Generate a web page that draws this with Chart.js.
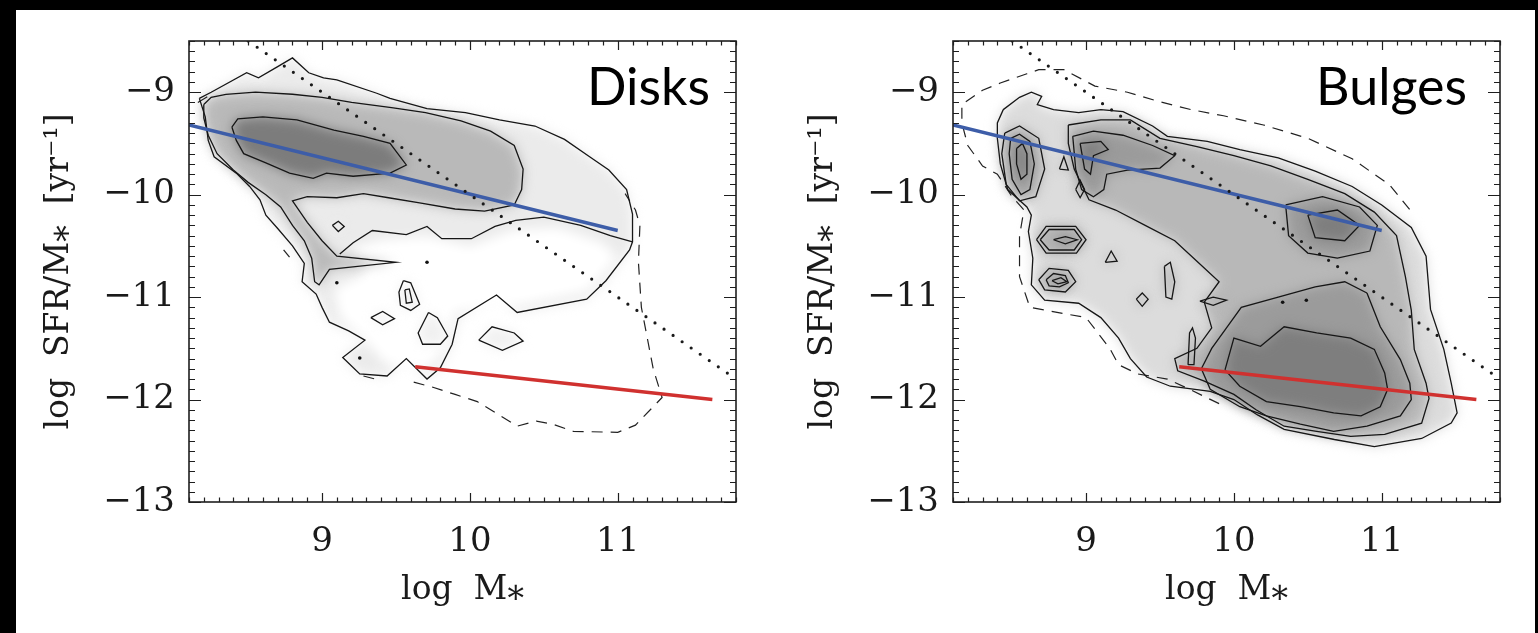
<!DOCTYPE html>
<html>
<head>
<meta charset="utf-8">
<script src="https://cdn.jsdelivr.net/npm/chart.js@4.4.1/dist/chart.umd.min.js"></script>
<style>
  html, body { margin: 0; padding: 0; background: #000; width: 1538px; height: 633px; overflow: hidden; }
  #sheet { position: absolute; left: 16px; top: 10px; width: 1519px; height: 623px; background: #fff; }
  canvas { position: absolute; top: 0; width: 769px; height: 633px; }
  #disks { left: 0; }
  #bulges { left: 764px; }
</style>
</head>
<body>
<div id="sheet"></div>
<canvas id="disks" width="769" height="633"></canvas>
<canvas id="bulges" width="769" height="633"></canvas>
<script>
// ---- axes ----
const xRange = [8.1, 11.8];
const yRange = [-13, -8.5];
const xTicks = [9, 10, 11];
const xTickLabels = ['9', '10', '11'];
const yTicks = [-13, -12, -11, -10, -9];
const yTickLabels = ['−13', '−12', '−11', '−10', '−9'];
const xTitle = 'log  M⁎';
const yTitle = 'log  SFR/M⁎  [yr⁻¹]';
const panelNames = ['Disks', 'Bulges'];

// ---- relations shared by both panels ----
const blueFit = [[8.1, -9.32], [11.0, -10.35]];
const redFit = [[9.63, -11.68], [11.64, -12.0]];
const equalityLine = [[8.5, -8.5], [11.8, -11.8]];

// ---- disk components: density contours ----
const disksOuter = [[8.17,-9.06],[8.25,-9.0],[8.49,-8.81],[8.57,-8.86],[8.7,-8.75],[8.8,-8.665],[8.91,-8.81],[9.01,-8.86],[9.1,-8.88],[9.37,-9.01],[9.46,-9.06],[9.71,-9.16],[9.97,-9.2],[10.2,-9.27],[10.44,-9.33],[10.64,-9.46],[10.8,-9.62],[10.94,-9.76],[11.06,-9.95],[11.1,-10.19],[11.1,-10.46],[11.08,-10.54],[10.92,-10.84],[10.79,-11.02],[10.32,-11.15],[10.18,-10.98],[9.92,-11.21],[9.88,-11.46],[9.8,-11.69],[9.71,-11.8],[9.57,-11.6],[9.44,-11.77],[9.255,-11.75],[9.14,-11.59],[9.29,-11.42],[9.18,-11.33],[9.05,-11.245],[9.0,-11.1],[8.96,-10.97],[8.865,-10.85],[8.88,-10.67],[8.8,-10.5],[8.7,-10.33],[8.62,-10.2],[8.58,-10.05],[8.51,-9.92],[8.42,-9.79],[8.27,-9.63],[8.23,-9.47],[8.21,-9.24]];
// inner boundary of the lowest level, open towards the right edge
const disksGap = [[9.12,-10.58],[9.21,-10.47],[9.34,-10.35],[9.57,-10.39],[9.71,-10.31],[9.81,-10.43],[10.01,-10.43],[10.17,-10.31],[10.31,-10.25],[10.5,-10.22],[10.75,-10.3],[10.95,-10.4],[11.1,-10.46]];
// region left unshaded below the main band
const disksClear = [[9.2,-10.52],[9.4,-10.44],[9.7,-10.4],[10.0,-10.5],[10.3,-10.34],[10.6,-10.32],[10.9,-10.47],[11.0,-10.62],[10.8,-10.95],[10.3,-11.1],[9.9,-11.15],[9.85,-11.5],[9.7,-11.72],[9.45,-11.68],[9.3,-11.45],[9.12,-11.2],[9.08,-10.92],[9.3,-10.76]];
const disksMid = [[8.2,-9.12],[8.25,-9.05],[8.35,-9.02],[8.55,-9.0],[8.8,-9.02],[9.0,-9.05],[9.2,-9.1],[9.47,-9.15],[9.7,-9.2],[9.94,-9.28],[10.14,-9.38],[10.3,-9.52],[10.36,-9.75],[10.35,-9.95],[10.3,-10.1],[10.1,-10.16],[9.9,-10.14],[9.66,-10.08],[9.45,-10.03],[9.28,-9.99],[9.1,-10.03],[8.9,-10.02],[8.8,-10.06],[8.9,-10.27],[9.0,-10.45],[9.1,-10.6],[9.5,-10.66],[9.05,-10.73],[8.98,-10.88],[8.95,-10.85],[8.93,-10.62],[8.88,-10.45],[8.8,-10.3],[8.72,-10.12],[8.62,-10.0],[8.5,-9.88],[8.4,-9.76],[8.29,-9.6],[8.23,-9.42],[8.2,-9.25]];
const disksCore = [[8.39,-9.34],[8.43,-9.26],[8.6,-9.24],[8.83,-9.27],[9.08,-9.37],[9.28,-9.43],[9.46,-9.5],[9.57,-9.71],[9.46,-9.79],[9.21,-9.82],[9.03,-9.79],[8.94,-9.84],[8.78,-9.79],[8.62,-9.69],[8.47,-9.6],[8.42,-9.47]];
const disksIslands = [
  [[9.07,-10.3],[9.11,-10.26],[9.15,-10.31],[9.11,-10.36]],
  [[9.33,-11.2],[9.41,-11.14],[9.49,-11.21],[9.41,-11.27]],
  [[9.55,-10.84],[9.6,-10.86],[9.66,-11.07],[9.6,-11.13],[9.53,-11.08],[9.52,-10.95]],
  [[9.72,-11.15],[9.78,-11.2],[9.85,-11.38],[9.8,-11.46],[9.68,-11.46],[9.65,-11.35]],
  [[10.06,-11.42],[10.15,-11.29],[10.3,-11.35],[10.36,-11.43],[10.22,-11.52]]
];
const disksIslandCores = [
  [[9.56,-10.93],[9.59,-10.92],[9.61,-11.05],[9.57,-11.06]]
];
const disksDashed = [
  [[9.62,-11.83],[9.75,-11.88],[9.9,-11.95],[10.05,-12.02],[10.32,-12.26],[10.45,-12.21],[10.56,-12.24],[10.7,-12.31],[11.0,-12.32],[11.12,-12.25],[11.3,-11.98],[11.24,-11.7],[11.16,-11.1],[11.14,-10.66],[11.15,-10.3],[11.12,-10.15],[11.05,-9.99]],
  [[8.16,-9.1],[8.24,-9.03]],
  [[8.74,-10.54],[8.78,-10.61]],
  [[9.28,-11.77],[9.36,-11.8]]
];
const disksDots = [[9.71,-10.66],[9.255,-11.595],[9.1,-10.86]];

// ---- bulge components: density contours ----
const bulgesOuter = [[8.44,-9.17],[8.55,-9.05],[8.63,-9.0],[8.7,-9.04],[8.67,-9.12],[8.78,-9.17],[8.95,-9.2],[9.1,-9.17],[9.25,-9.19],[9.45,-9.33],[9.55,-9.43],[9.82,-9.48],[10.04,-9.56],[10.3,-9.64],[10.55,-9.77],[10.8,-9.92],[11.0,-10.1],[11.2,-10.32],[11.3,-10.6],[11.33,-11.12],[11.42,-11.51],[11.47,-11.84],[11.51,-12.13],[11.47,-12.23],[11.27,-12.38],[10.95,-12.46],[10.68,-12.39],[10.34,-12.29],[10.16,-12.15],[10.0,-12.0],[9.84,-11.92],[9.57,-11.87],[9.41,-11.78],[9.3,-11.6],[9.22,-11.4],[9.1,-11.2],[8.95,-11.06],[8.72,-11.03],[8.63,-10.88],[8.64,-10.62],[8.61,-10.36],[8.63,-10.2],[8.6,-10.12],[8.47,-9.95],[8.42,-9.7],[8.4,-9.45],[8.4,-9.3]];
const bulgesMid = [
  [[8.88,-9.32],[9.1,-9.27],[9.3,-9.27],[9.5,-9.45],[9.75,-9.53],[10.0,-9.62],[10.25,-9.72],[10.5,-9.85],[10.75,-9.99],[10.95,-10.17],[11.1,-10.4],[11.16,-10.8],[11.2,-11.13],[11.22,-11.51],[11.3,-11.84],[11.32,-11.99],[11.27,-12.23],[11.02,-12.34],[10.79,-12.36],[10.56,-12.31],[10.34,-12.26],[10.15,-12.1],[10.0,-11.95],[9.8,-11.82],[9.62,-11.72],[9.6,-11.6],[9.75,-11.5],[9.85,-11.3],[9.8,-11.05],[9.9,-10.85],[9.75,-10.65],[9.6,-10.45],[9.4,-10.3],[9.2,-10.15],[9.02,-10.05],[8.92,-9.75],[8.88,-9.5]],
  [[8.45,-9.4],[8.55,-9.33],[8.68,-9.45],[8.72,-9.75],[8.66,-10.02],[8.55,-10.06],[8.46,-9.9],[8.43,-9.6]]
];
const bulgesHigh = [
  [[8.91,-9.43],[9.05,-9.38],[9.25,-9.42],[9.45,-9.52],[9.6,-9.62],[9.5,-9.74],[9.28,-9.76],[9.14,-9.8],[9.12,-9.95],[9.05,-10.02],[8.97,-9.95],[8.93,-9.75]],
  [[10.35,-10.1],[10.6,-10.02],[10.85,-10.12],[10.97,-10.3],[10.92,-10.55],[10.7,-10.62],[10.5,-10.57],[10.37,-10.4]],
  [[10.9,-10.96],[10.99,-11.29],[11.126,-11.61],[11.19,-11.84],[11.2,-12.0],[11.126,-12.16],[10.9,-12.26],[10.675,-12.31],[10.45,-12.24],[10.22,-12.16],[10.04,-12.07],[9.84,-11.9],[9.78,-11.7],[9.85,-11.5],[9.95,-11.3],[10.05,-11.1],[10.3,-11.0],[10.55,-10.9],[10.75,-10.85]],
  [[8.49,-9.45],[8.55,-9.41],[8.62,-9.48],[8.65,-9.7],[8.62,-9.95],[8.56,-10.0],[8.5,-9.85],[8.48,-9.6]]
];
const bulgesPeak = [
  [[9.94,-11.71],[10.0,-11.4],[10.18,-11.48],[10.34,-11.29],[10.56,-11.35],[10.79,-11.4],[10.95,-11.51],[11.02,-11.74],[11.04,-11.9],[10.99,-12.07],[10.86,-12.16],[10.675,-12.13],[10.45,-12.07],[10.22,-12.02],[10.04,-11.87]],
  [[8.53,-9.55],[8.57,-9.5],[8.6,-9.6],[8.6,-9.8],[8.56,-9.85],[8.53,-9.7]],
  [[8.96,-9.5],[9.1,-9.48],[9.15,-9.56],[9.05,-9.62],[9.03,-9.8],[8.99,-9.75]],
  [[10.5,-10.2],[10.7,-10.15],[10.85,-10.3],[10.75,-10.45],[10.55,-10.42]]
];
const bulgesIslands = [
  [[8.665,-10.44],[8.73,-10.31],[8.93,-10.31],[9.0,-10.44],[8.935,-10.57],[8.73,-10.57]],
  [[8.69,-10.44],[8.75,-10.34],[8.92,-10.34],[8.97,-10.44],[8.92,-10.54],[8.75,-10.54]],
  [[8.68,-10.83],[8.75,-10.72],[8.88,-10.74],[8.93,-10.85],[8.86,-10.95],[8.72,-10.93]],
  [[8.73,-10.83],[8.78,-10.77],[8.86,-10.79],[8.88,-10.86],[8.82,-10.9],[8.75,-10.89]],
  [[9.13,-10.66],[9.17,-10.55],[9.21,-10.65]],
  [[9.34,-11.02],[9.38,-10.96],[9.42,-11.02],[9.38,-11.09]],
  [[9.53,-10.7],[9.57,-10.66],[9.6,-10.85],[9.58,-11.02],[9.54,-11.0]],
  [[9.77,-11.04],[9.86,-11.0],[9.95,-11.03],[9.86,-11.08]],
  [[9.69,-11.66],[9.7,-11.35],[9.72,-11.3],[9.74,-11.4],[9.73,-11.66]],
  [[8.93,-9.95],[8.96,-9.86],[8.99,-9.95],[8.96,-10.03]],
  [[8.82,-9.75],[8.85,-9.63],[8.88,-9.76]]
];
const bulgesIslandCores = [
  [[8.78,-10.44],[8.86,-10.41],[8.94,-10.44],[8.86,-10.48]],
  [[8.77,-10.84],[8.83,-10.81],[8.87,-10.85],[8.81,-10.87]]
];
const bulgesDashed = [
  [[9.9,-12.04],[9.7,-11.9],[9.55,-11.8],[9.35,-11.75],[9.22,-11.66],[9.16,-11.5],[9.0,-11.2],[8.62,-11.1],[8.55,-10.8],[8.55,-10.4],[8.58,-10.15],[8.5,-10.02],[8.4,-9.8],[8.3,-9.72],[8.2,-9.52],[8.16,-9.3],[8.16,-9.12],[8.3,-8.98],[8.42,-8.91],[8.6,-8.82],[8.68,-8.78],[8.85,-8.78],[9.06,-8.94],[9.28,-9.0],[9.49,-9.09],[9.71,-9.17],[9.93,-9.23],[10.2,-9.32],[10.5,-9.45],[10.8,-9.65],[11.05,-9.9],[11.22,-10.2]]
];
const bulgesDots = [[10.33,-11.05],[10.49,-11.03]];

const pts = (a) => a.map(([x, y]) => ({ x, y }));
const ring = (a) => { const d = pts(a); d.push(d[0]); return d; };

function contour(a, shade) {
  return { data: ring(a), showLine: true, borderColor: '#161616', borderWidth: 1.3,
    pointRadius: 0, fill: false, tension: 0, shade };
}
function openContour(a) {
  return { data: pts(a), showLine: true, borderColor: '#161616', borderWidth: 1.3,
    pointRadius: 0, fill: false, tension: 0 };
}
// a shaded area with no outline of its own
function area(a, shade) {
  return { data: ring(a), showLine: false, pointRadius: 0, shade };
}
function dashed(a) {
  return { data: pts(a), showLine: true, borderColor: '#222', borderWidth: 1.2, borderDash: [11, 8],
    pointRadius: 0, fill: false, tension: 0 };
}
function commonSets(dots) {
  return [
    { data: pts(equalityLine), showLine: true, borderColor: '#1a1a1a', borderWidth: 3.2,
      borderDash: [0, 11], borderCapStyle: 'round', pointRadius: 0 },
    { data: pts(blueFit), showLine: true, borderColor: '#3d5da8', borderWidth: 3.4, pointRadius: 0 },
    { data: pts(redFit), showLine: true, borderColor: '#d0312f', borderWidth: 3.4, pointRadius: 0 },
    { data: pts(dots), showLine: false, pointRadius: 1.8, pointBackgroundColor: '#111', pointBorderWidth: 0 }
  ];
}

const disksSets = [
  ...commonSets(disksDots),
  contour(disksOuter, '#ebebeb'),
  area(disksClear, '#ffffff'),
  openContour(disksGap),
  ...disksIslands.map(a => contour(a, '#f0f0f0')),
  contour(disksMid, '#b9b9b9'),
  contour(disksCore, '#7c7c7c'),
  ...disksIslandCores.map(a => contour(a)),
  ...disksDashed.map(dashed)
];

const bulgesSets = [
  ...commonSets(bulgesDots),
  contour(bulgesOuter, '#dcdcdc'),
  ...bulgesMid.map(a => contour(a, '#b8b8b8')),
  ...bulgesHigh.map(a => contour(a, '#9b9b9b')),
  ...bulgesPeak.map(a => contour(a, '#7e7e7e')),
  ...bulgesIslands.map(a => contour(a, '#b4b4b4')),
  ...bulgesIslandCores.map(a => contour(a, '#777777')),
  ...bulgesDashed.map(dashed)
];

// soft grey fill behind the contour lines
const shadePlugin = {
  id: 'densityShade',
  beforeDatasetsDraw(chart) {
    const { ctx, chartArea: a, scales: { x, y } } = chart;
    ctx.save();
    ctx.beginPath();
    ctx.rect(a.left, a.top, a.width, a.height);
    ctx.clip();
    ctx.filter = 'blur(6px)';
    chart.data.datasets.forEach(ds => {
      if (!ds.shade) return;
      ctx.beginPath();
      ds.data.forEach((p, i) => {
        const px = x.getPixelForValue(p.x), py = y.getPixelForValue(p.y);
        if (i) ctx.lineTo(px, py); else ctx.moveTo(px, py);
      });
      ctx.closePath();
      ctx.fillStyle = ds.shade;
      ctx.fill();
    });
    ctx.restore();
  }
};

// box frame with inward major/minor ticks on all four sides
const framePlugin = {
  id: 'frameTicks',
  afterDatasetsDraw(chart) {
    const { ctx, chartArea: a, scales: { x, y } } = chart;
    ctx.save();
    ctx.strokeStyle = '#1e1e1e';
    ctx.lineWidth = 1.2;
    ctx.beginPath();
    for (let i = Math.round(xRange[0] * 10); i <= Math.round(xRange[1] * 10); i++) {
      const px = Math.round(x.getPixelForValue(i / 10)) + 0.5;
      const len = i % 10 === 0 ? 9 : 4.5;
      ctx.moveTo(px, a.bottom); ctx.lineTo(px, a.bottom - len);
      ctx.moveTo(px, a.top); ctx.lineTo(px, a.top + len);
    }
    for (let i = Math.round(yRange[0] * 10); i <= Math.round(yRange[1] * 10); i++) {
      const py = Math.round(y.getPixelForValue(i / 10)) + 0.5;
      const len = i % 10 === 0 ? 12 : 6;
      ctx.moveTo(a.left, py); ctx.lineTo(a.left + len, py);
      ctx.moveTo(a.right, py); ctx.lineTo(a.right - len, py);
    }
    ctx.stroke();
    ctx.lineWidth = 1.6;
    ctx.strokeRect(a.left, a.top, a.width, a.height);
    ctx.restore();
  }
};

// panel name in the upper right corner
const namePlugin = {
  id: 'panelName',
  afterDraw(chart, args, opts) {
    const { ctx, chartArea: a } = chart;
    ctx.save();
    ctx.font = '52px Lato, "Open Sans", sans-serif';
    ctx.fillStyle = '#000';
    ctx.textAlign = 'right';
    ctx.textBaseline = 'alphabetic';
    ctx.fillText(opts.text, a.right - opts.inset, a.top + 64);
    ctx.restore();
  }
};

const axisFont = { family: '"DejaVu Serif", serif', size: 34 };
const titleFont = { family: '"DejaVu Serif", serif', size: 33 };

function makePanel(id, datasets, name, inset) {
  return new Chart(document.getElementById(id), {
    type: 'scatter',
    data: { datasets },
    plugins: [shadePlugin, framePlugin, namePlugin],
    options: {
      responsive: false,
      animation: false,
      devicePixelRatio: 1,
      layout: { padding: { top: 41, right: 33, left: 0, bottom: 0 } },
      plugins: { legend: { display: false }, tooltip: { enabled: false }, panelName: { text: name, inset } },
      elements: { line: { tension: 0 }, point: { radius: 0 } },
      scales: {
        x: {
          type: 'linear', min: xRange[0], max: xRange[1],
          afterBuildTicks: s => { s.ticks = xTicks.map(v => ({ value: v })); },
          afterFit: s => { s.height = 131; },
          grid: { display: false, drawTicks: false },
          border: { display: false },
          ticks: { font: axisFont, color: '#1a1a1a', padding: 20, maxRotation: 0,
            callback: v => xTickLabels[xTicks.indexOf(v)] },
          title: { display: true, text: xTitle, font: titleFont, color: '#1a1a1a', padding: { top: 0, bottom: 23 } }
        },
        y: {
          type: 'linear', min: yRange[0], max: yRange[1],
          afterBuildTicks: s => { s.ticks = yTicks.map(v => ({ value: v })); },
          afterFit: s => { s.width = 189; },
          grid: { display: false, drawTicks: false },
          border: { display: false },
          ticks: { font: axisFont, color: '#1a1a1a', padding: 14,
            callback: v => yTickLabels[yTicks.indexOf(v)] },
          title: { display: true, text: yTitle, font: titleFont, color: '#1a1a1a', padding: { top: 40, bottom: 0 } }
        }
      }
    }
  });
}

makePanel('disks', disksSets, panelNames[0], 26);
makePanel('bulges', bulgesSets, panelNames[1], 33);
</script>
</body>
</html>
